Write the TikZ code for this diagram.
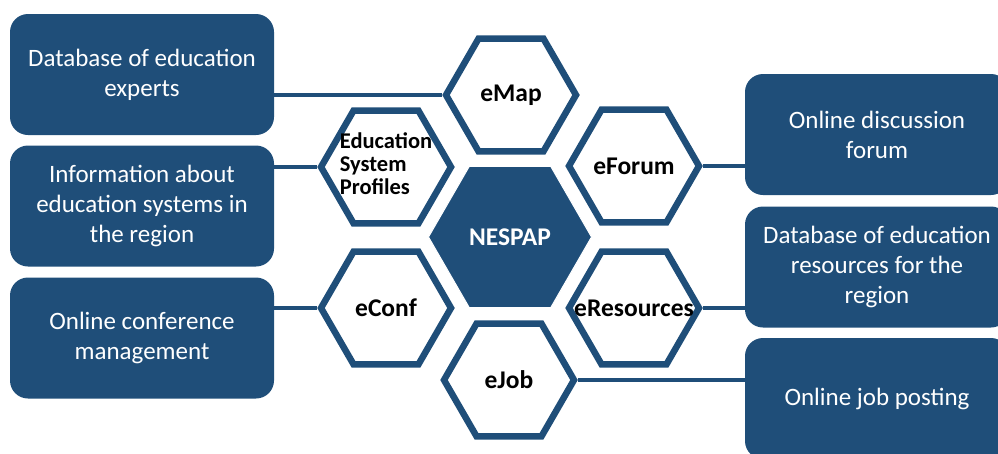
\documentclass[tikz,border=0pt]{standalone}
\usepackage{fontspec}
\setmainfont{Carlito}
\usepackage{tikz}
\usetikzlibrary{shapes}
\usetikzlibrary{positioning}
\definecolor{nespapblue}{RGB}{31,78,121}
\tikzset{
    infobox/.style={rectangle, rounded corners=18pt, fill=nespapblue, text=white,
        minimum width=264pt, minimum height=121pt, align=center,
        font=\fontsize{25}{30}\selectfont},
    hexagon/.style={regular polygon, regular polygon sides=6, draw=nespapblue,
        line width=6.5pt, fill=white, minimum size=130pt, inner sep=0pt,
        font=\fontsize{25.5}{28}\bfseries\selectfont},
    hub/.style={regular polygon, regular polygon sides=6, draw=white, line width=1pt,
        fill=nespapblue, text=white, minimum size=163pt, inner sep=0pt,
        font=\fontsize{25.5}{28}\bfseries\selectfont},
    link/.style={draw=nespapblue, line width=4pt},
}
\newcommand{\hexlabel}[1]{\makebox[0pt]{#1}}

\begin{document}
\begin{tikzpicture}[x=1pt, y=-1pt]
    \clip (0,0) rectangle (998,453);
    \coordinate (c) at (510,237);
    % hexagons
    \node[hub] (nespap) at (c) {\hexlabel{NESPAP}};
    \node[hexagon] (emap) at (511,95) {\hexlabel{eMap}};
    \node[hexagon] (profiles) at (386,167) {\hexlabel{\fontsize{22.5}{23}\selectfont
        \begin{tabular}{@{}l@{}}Education\\System\\Profiles\end{tabular}}};
    \node[hexagon] (econf) at (386,308) {\hexlabel{eConf}};
    \node[hexagon] (eforum) at (634,166) {\hexlabel{eForum}};
    \node[hexagon] (eresources) at (634,308) {\hexlabel{eResources}};
    \node[hexagon] (ejob) at (509,380) {\hexlabel{eJob}};
    % boxes left
    \node[infobox] (experts) at (142,74.5) {Database of education\\experts};
    \node[infobox] (systems) at (142,206) {Information about\\education systems in\\the region};
    \node[infobox] (conference) at (142,338) {Online conference\\management};
    % boxes right
    \node[infobox] (forum) at (877,134.5) {Online discussion\\forum};
    \node[infobox] (resources) at (877,267) {Database of education\\resources for the\\region};
    \node[infobox] (jobs) at (877,398.5) {Online job posting};
    % links
    \draw[link] (emap.west) -- (emap.west -| experts.east);
    \draw[link] (profiles.west) -- (profiles.west -| systems.east);
    \draw[link] (econf.west) -- (econf.west -| conference.east);
    \draw[link] (eforum.east) -- (eforum.east -| forum.west);
    \draw[link] (eresources.east) -- (eresources.east -| resources.west);
    \draw[link] (ejob.east) -- (ejob.east -| jobs.west);
\end{tikzpicture}
\end{document}
